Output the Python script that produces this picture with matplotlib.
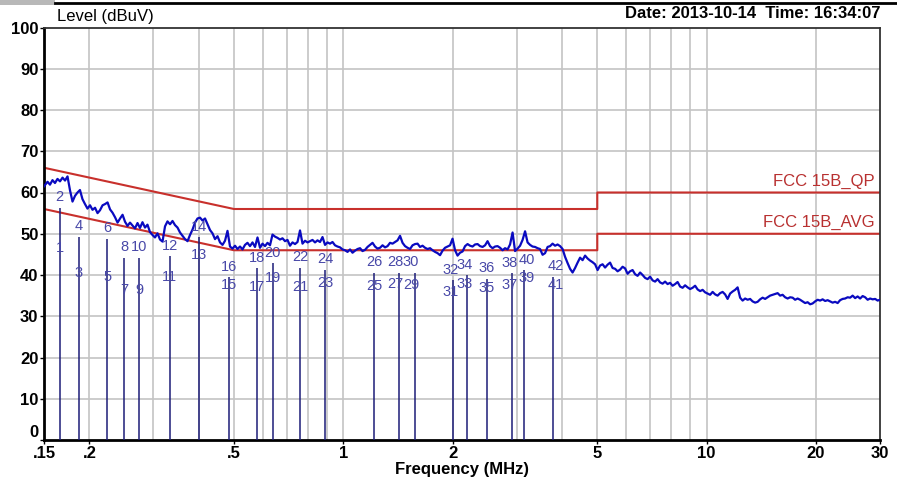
"""Conducted emission scan, FCC 15B QP / AVG limits."""

import matplotlib
matplotlib.use("Agg")
import matplotlib.pyplot as plt
from matplotlib.lines import Line2D
from matplotlib.patches import Rectangle
from matplotlib.ticker import FixedLocator, NullFormatter

plt.rcParams["font.family"] = ["Liberation Sans", "DejaVu Sans"]

# scan trace, MHz / dBuV
trace_mhz = [
    0.1500, 0.1534, 0.1558, 0.1583, 0.1608, 0.1634, 0.1660, 0.1687, 0.1714, 0.1741,
    0.1769, 0.1797, 0.1826, 0.1855, 0.1884, 0.1914, 0.1945, 0.1976, 0.2008, 0.2040,
    0.2073, 0.2106, 0.2139, 0.2174, 0.2209, 0.2244, 0.2280, 0.2316, 0.2353, 0.2391,
    0.2429, 0.2468, 0.2507, 0.2547, 0.2587, 0.2628, 0.2670, 0.2713, 0.2756, 0.2800,
    0.2845, 0.2890, 0.2937, 0.2984, 0.3031, 0.3080, 0.3129, 0.3179, 0.3230, 0.3281,
    0.3334, 0.3387, 0.3441, 0.3496, 0.3552, 0.3608, 0.3666, 0.3725, 0.3784, 0.3844,
    0.3906, 0.3968, 0.4032, 0.4096, 0.4162, 0.4228, 0.4296, 0.4364, 0.4434, 0.4505,
    0.4577, 0.4650, 0.4724, 0.4799, 0.4876, 0.4954, 0.5033, 0.5113, 0.5195, 0.5278,
    0.5362, 0.5447, 0.5535, 0.5623, 0.5713, 0.5804, 0.5897, 0.5991, 0.6087, 0.6184,
    0.6283, 0.6383, 0.6485, 0.6589, 0.6694, 0.6801, 0.6910, 0.7020, 0.7132, 0.7246,
    0.7362, 0.7479, 0.7599, 0.7720, 0.7844, 0.7969, 0.8096, 0.8225, 0.8357, 0.8490,
    0.8626, 0.8764, 0.8904, 0.9046, 0.9190, 0.9337, 0.9486, 0.9638, 0.9792, 0.9948,
    1.0107, 1.0269, 1.0433, 1.0599, 1.0769, 1.0941, 1.1116, 1.1293, 1.1474, 1.1657,
    1.1843, 1.2033, 1.2225, 1.2420, 1.2618, 1.2820, 1.3025, 1.3233, 1.3444, 1.3659,
    1.3877, 1.4099, 1.4324, 1.4553, 1.4785, 1.5021, 1.5261, 1.5505, 1.5753, 1.6005,
    1.6260, 1.6520, 1.6784, 1.7052, 1.7324, 1.7601, 1.7882, 1.8168, 1.8458, 1.8753,
    1.9052, 1.9356, 1.9666, 1.9980, 2.0299, 2.0623, 2.0953, 2.1288, 2.1628, 2.1973,
    2.2324, 2.2681, 2.3043, 2.3411, 2.3785, 2.4165, 2.4551, 2.4943, 2.5342, 2.5747,
    2.6158, 2.6576, 2.7000, 2.7431, 2.7870, 2.8315, 2.8767, 2.9227, 2.9694, 3.0168,
    3.0650, 3.1140, 3.1637, 3.2143, 3.2656, 3.3178, 3.3708, 3.4246, 3.4793, 3.5349,
    3.5914, 3.6487, 3.7070, 3.7662, 3.8264, 3.8875, 3.9496, 4.0127, 4.0768, 4.1419,
    4.2081, 4.2753, 4.3436, 4.4130, 4.4835, 4.5551, 4.6279, 4.7018, 4.7769, 4.8532,
    4.9308, 5.0096, 5.0895, 5.1708, 5.2534, 5.3373, 5.4226, 5.5092, 5.5972, 5.6866,
    5.7775, 5.8698, 5.9636, 6.0588, 6.1556, 6.2539, 6.3538, 6.4553, 6.5585, 6.6632,
    6.7697, 6.8778, 6.9877, 7.0993, 7.2127, 7.3279, 7.4450, 7.5639, 7.6848, 7.8075,
    7.9322, 8.0589, 8.1877, 8.3185, 8.4513, 8.5863, 8.7235, 8.8628, 9.0044, 9.1482,
    9.2944, 9.4428, 9.5937, 9.7469, 9.9027, 10.061, 10.221, 10.385, 10.551, 10.719,
    10.890, 11.064, 11.241, 11.420, 11.603, 11.788, 11.977, 12.168, 12.362, 12.560,
    12.760, 12.964, 13.171, 13.381, 13.596, 13.813, 14.033, 14.257, 14.485, 14.717,
    14.952, 15.191, 15.433, 15.680, 15.930, 16.184, 16.443, 16.706, 16.973, 17.244,
    17.519, 17.799, 18.083, 18.372, 18.666, 18.964, 19.267, 19.575, 19.887, 20.205,
    20.528, 20.855, 21.189, 21.527, 21.871, 22.220, 22.575, 22.936, 23.302, 23.674,
    24.053, 24.437, 24.827, 25.224, 25.627, 26.036, 26.452, 26.875, 27.304, 27.740,
    28.183, 28.633, 29.091, 29.555, 30.000,
]
trace_dbuv = [
    61.5, 62.6, 61.9, 63.0, 62.3, 63.3, 62.7, 63.6, 62.9, 63.9,
    60.5, 57.8, 59.2, 60.0, 60.6, 58.4, 57.2, 56.1, 56.9, 55.8,
    56.3, 55.0, 55.7, 56.9, 57.2, 57.6, 55.9, 55.1, 54.0, 52.7,
    53.7, 54.6, 52.9, 51.9, 52.7, 52.0, 51.3, 52.6, 51.4, 52.8,
    51.5, 52.2, 50.4, 49.7, 49.1, 50.1, 48.6, 48.1, 51.8, 53.0,
    52.3, 53.1, 52.1, 51.5, 50.3, 49.5, 48.7, 48.2, 49.7, 51.0,
    52.7, 53.7, 53.9, 53.2, 53.7, 52.3, 50.9, 50.1, 48.7, 49.4,
    47.9, 47.3, 48.3, 50.7, 46.9, 46.4, 47.1, 46.3, 46.9, 46.2,
    47.3, 47.8, 47.0, 47.9, 46.8, 49.1, 46.6, 47.6, 47.0, 47.8,
    47.2, 49.8, 49.3, 49.0, 48.6, 48.9, 48.2, 48.5, 47.1, 47.9,
    47.5, 48.0, 50.8, 47.6, 48.3, 47.9, 48.2, 48.5, 47.9, 48.4,
    48.0, 49.2, 47.3, 47.9, 47.6, 48.0, 47.2, 46.9, 46.7, 46.2,
    46.0, 45.6, 46.2, 45.4, 45.9, 46.3, 46.5, 45.8, 46.1, 46.8,
    47.3, 47.8, 46.9, 46.4, 46.6, 47.2, 46.7, 47.0, 47.8, 47.6,
    48.0, 48.4, 49.5, 47.8, 47.0, 46.6, 46.3, 47.2, 47.5, 47.6,
    46.8, 47.1, 46.6, 46.3, 46.5, 46.0, 45.6, 45.3, 44.8, 45.9,
    46.6, 46.9, 47.2, 48.8, 46.0, 44.7, 45.4, 45.7, 47.0, 47.5,
    47.1, 46.9, 47.4, 47.5, 47.0, 46.8, 47.2, 48.2, 47.0, 46.5,
    46.9, 47.0, 46.6, 46.0, 46.5, 46.2, 47.4, 50.3, 45.8, 46.4,
    47.1, 48.5, 50.6, 47.9, 47.3, 46.9, 46.8, 46.5, 46.3, 44.9,
    45.3, 46.8, 47.0, 47.6, 47.1, 47.4, 47.0, 46.3, 44.4, 42.9,
    41.5, 40.6, 41.7, 43.0, 44.2, 43.6, 44.7, 44.0, 43.5, 43.1,
    42.6, 41.2, 42.3, 42.6, 41.8, 42.5, 43.0, 41.7, 41.5, 40.9,
    41.3, 42.0, 41.6, 40.3, 40.9, 41.2, 40.2, 39.8, 40.6, 40.0,
    39.3, 39.0, 39.6, 38.7, 38.4, 39.0, 38.2, 37.9, 38.4, 37.8,
    38.1, 37.4, 37.8, 38.3, 37.2, 36.9, 37.5, 37.0, 36.6, 36.9,
    37.4, 36.5, 36.1, 36.4, 35.8, 35.5, 35.2, 35.9, 35.3, 35.0,
    35.6, 35.9, 35.3, 34.2, 35.5, 36.0, 36.4, 37.0, 34.5, 33.8,
    34.3, 34.0, 34.2, 33.6, 33.3, 33.5, 34.1, 34.5, 34.2, 34.6,
    35.0, 35.2, 35.4, 35.6, 35.0, 35.2, 34.6, 34.3, 34.6, 34.5,
    34.0, 34.3, 34.0, 33.6, 33.2, 33.4, 32.9, 33.1, 33.6, 34.0,
    33.8, 34.1, 33.7, 33.9, 33.6, 33.3, 33.5, 33.2, 33.9, 34.2,
    34.3, 34.6, 34.5, 35.0, 34.4, 34.8, 34.3, 34.9, 34.6, 34.0,
    34.3, 34.1, 34.2, 33.8, 34.0,
]

# FCC part 15B class B conducted limits
qp_limit_mhz = [0.15, 0.5, 5.0, 5.0, 30.0]
qp_limit_db = [66, 56, 56, 60, 60]
avg_limit_mhz = [0.15, 0.5, 5.0, 5.0, 30.0]
avg_limit_db = [56, 46, 46, 50, 50]

# marker pairs: odd = AVG, even = QP
marker_mhz = [0.1655, 0.187, 0.224, 0.249, 0.274, 0.333, 0.400, 0.485, 0.579, 0.640, 0.760,
              0.890, 1.218, 1.423, 1.570, 2.000, 2.190, 2.478, 2.910, 3.140, 3.780]
marker_qp = [56.3, 49.3, 48.8, 44.2, 44.2, 44.5, 49.1, 39.4, 41.6, 42.8, 41.8,
             41.3, 40.6, 40.6, 40.6, 38.7, 39.9, 39.1, 40.4, 41.1, 39.6]
marker_avg = [44.0, 37.9, 37.0, 33.8, 33.8, 37.0, 42.3, 35.0, 34.5, 36.7, 34.5,
              35.5, 34.8, 35.3, 35.0, 33.3, 35.3, 34.3, 35.0, 36.7, 35.0]

grid_mhz = [0.2, 0.3, 0.4, 0.5, 0.6, 0.7, 0.8, 0.9, 1, 2, 3, 4, 5, 6, 7, 8, 9, 10, 20]
tick_mhz = [0.15, 0.2, 0.5, 1, 2, 5, 10, 20, 30]
tick_labels = [".15", ".2", ".5", "1", "2", "5", "10", "20", "30"]

# nudge crowded marker labels sideways (points)
label_nudge = {13: -2.5, 14: -2.5, 15: -1.5, 16: -1.5, 18: -2, 19: 2, 20: 2}

assert len(trace_mhz) == len(trace_dbuv)

fig = plt.figure(figsize=(8.97, 4.82), dpi=100)
ax = fig.add_axes([44 / 897, 42 / 482, 836 / 897, 412.5 / 482])

ax.set_xscale("log")
ax.set_xlim(0.15, 30)
ax.set_ylim(0, 100)

ax.xaxis.set_major_locator(FixedLocator(tick_mhz))
ax.xaxis.set_minor_locator(FixedLocator([]))
ax.xaxis.set_minor_formatter(NullFormatter())
ax.set_xticklabels(tick_labels, fontsize=12, fontweight="bold")
ax.set_yticks(range(0, 101, 10))
ax.set_yticklabels([str(v) for v in range(0, 101, 10)], fontsize=12, fontweight="bold")
ax.get_yticklabels()[0].set_va("bottom")
ax.tick_params(length=3, width=1, pad=1)

for g in grid_mhz:
    ax.axvline(g, color="#c4c4c4", lw=1.2, zorder=0)
for v in range(10, 100, 10):
    ax.axhline(v, color="#c4c4c4", lw=1.2, zorder=0)

ax.plot(qp_limit_mhz, qp_limit_db, color="#c8302c", lw=1.5, zorder=2)
ax.plot(avg_limit_mhz, avg_limit_db, color="#c8302c", lw=1.5, zorder=2)
ax.text(29.0, 60.9, "FCC 15B_QP", color="#b83030", fontsize=12, ha="right", va="bottom")
ax.text(29.0, 50.9, "FCC 15B_AVG", color="#b83030", fontsize=12, ha="right", va="bottom")

ax.plot(trace_mhz, trace_dbuv, color="#0a0ac0", lw=1.6, zorder=3)

ax.vlines(marker_mhz, 0, marker_qp, color="#1c1c78", lw=1.1, zorder=4)
for i, f in enumerate(marker_mhz):
    dx = label_nudge.get(i, 0)
    ax.annotate(str(2 * i + 2), (f, marker_qp[i] + 2.6), xytext=(dx, 0),
                textcoords="offset points", color="#4848a8", fontsize=10.5,
                ha="center", va="center", zorder=5)
    ax.annotate(str(2 * i + 1), (f, marker_avg[i] + 2.6), xytext=(dx, 0),
                textcoords="offset points", color="#4848a8", fontsize=10.5,
                ha="center", va="center", zorder=5)

for side in ["left", "bottom"]:
    ax.spines[side].set_linewidth(2)
    ax.spines[side].set_color("black")
for side in ["top", "right"]:
    ax.spines[side].set_linewidth(1.3)
    ax.spines[side].set_color("#333333")

ax.set_xlabel("Frequency (MHz)", fontsize=12, fontweight="bold", labelpad=1)

fig.text(57 / 897, 1 - 16 / 482, "Level (dBuV)", fontsize=12, ha="left", va="center")
fig.text(880 / 897, 1 - 14 / 482, "Date: 2013-10-14  Time: 16:34:07", fontsize=12,
         fontweight="bold", ha="right", va="center")

# header strip
fig.add_artist(Rectangle((0, 1 - 5 / 482), 55 / 897, 5 / 482, transform=fig.transFigure,
                         facecolor="#b8b8b8", edgecolor="none"))
fig.add_artist(Line2D([55 / 897, 1], [1 - 3 / 482, 1 - 3 / 482], transform=fig.transFigure,
                      color="black", lw=2))

fig.savefig("out.png", dpi=100)
